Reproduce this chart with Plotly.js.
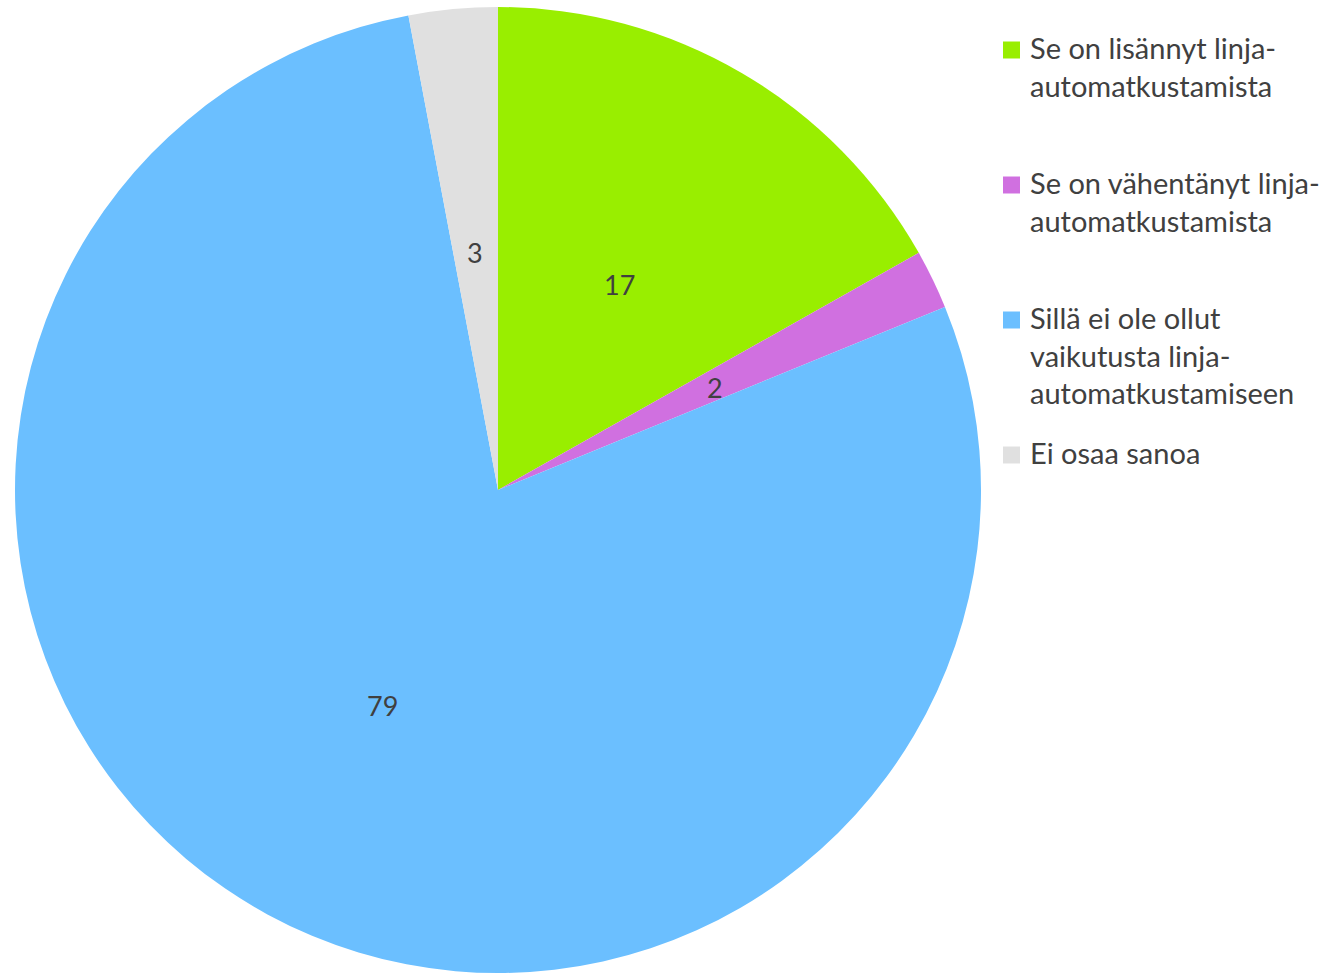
<!DOCTYPE html>
<html>
<head>
<meta charset="utf-8">
<script src="https://cdn.plot.ly/plotly-3.0.1.min.js"></script>
<style>html,body{margin:0;padding:0;background:#fff;}#chart{width:1341px;height:974px;}</style>
</head>
<body>
<div id="chart"></div>
<script>
const categories = [
  "Se on lisännyt linja-<br>automatkustamista",
  "Se on vähentänyt linja-<br>automatkustamista",
  "Sillä ei ole ollut<br>vaikutusta linja-<br>automatkustamiseen",
  "Ei osaa sanoa"
];
const values = [17, 2, 79, 3];
const colors = ["#99EE00", "#D070E0", "#6BBFFF", "#E0E0E0"];

const W = 1341, H = 974;
const cx = 498, cy = 490, R = 483;
const FONT = "Lato, 'Open Sans', sans-serif";
const TXT = "#404040";

const trace = {
  type: "pie",
  labels: categories,
  values: values,
  marker: {colors: colors, line: {width: 0}},
  sort: false,
  direction: "clockwise",
  rotation: 0,
  textinfo: "none",
  hoverinfo: "label+value",
  showlegend: false,
  domain: {x: [(cx - R) / W, (cx + R) / W], y: [(H - cy - R) / H, (H - cy + R) / H]}
};

const annotations = [];
const shapes = [];
const total = values.reduce((a, b) => a + b, 0);
let cum = 0;
values.forEach((v, i) => {
  const mid = (cum + v / 2) / total * 2 * Math.PI;
  cum += v;
  const px = cx + 0.5 * R * Math.sin(mid);
  const py = cy - 0.5 * R * Math.cos(mid) + 3;
  annotations.push({
    x: px / W, y: 1 - py / H, xref: "paper", yref: "paper",
    text: String(v), showarrow: false,
    font: {family: FONT, size: 27, color: TXT},
    xanchor: "center", yanchor: "middle"
  });
});

// legend
const legX = 1003, legSize = 17, textX = 1028, legY0 = 50, legStep = 135, legFont = 29;
categories.forEach((c, i) => {
  const y = legY0 + i * legStep;
  shapes.push({
    type: "rect", xref: "paper", yref: "paper",
    x0: legX / W, x1: (legX + legSize) / W,
    y0: 1 - (y - legSize / 2) / H, y1: 1 - (y + legSize / 2) / H,
    fillcolor: colors[i], line: {width: 0}
  });
  annotations.push({
    x: textX / W, y: 1 - (y - 22) / H, xref: "paper", yref: "paper",
    text: c, showarrow: false, align: "left",
    font: {family: FONT, size: legFont, color: TXT},
    xanchor: "left", yanchor: "top"
  });
});

Plotly.newPlot("chart", [trace], {
  width: W, height: H,
  margin: {l: 0, r: 0, t: 0, b: 0},
  paper_bgcolor: "#ffffff",
  showlegend: false,
  annotations: annotations,
  shapes: shapes
}, {displayModeBar: false, staticPlot: true});
</script>
</body>
</html>
